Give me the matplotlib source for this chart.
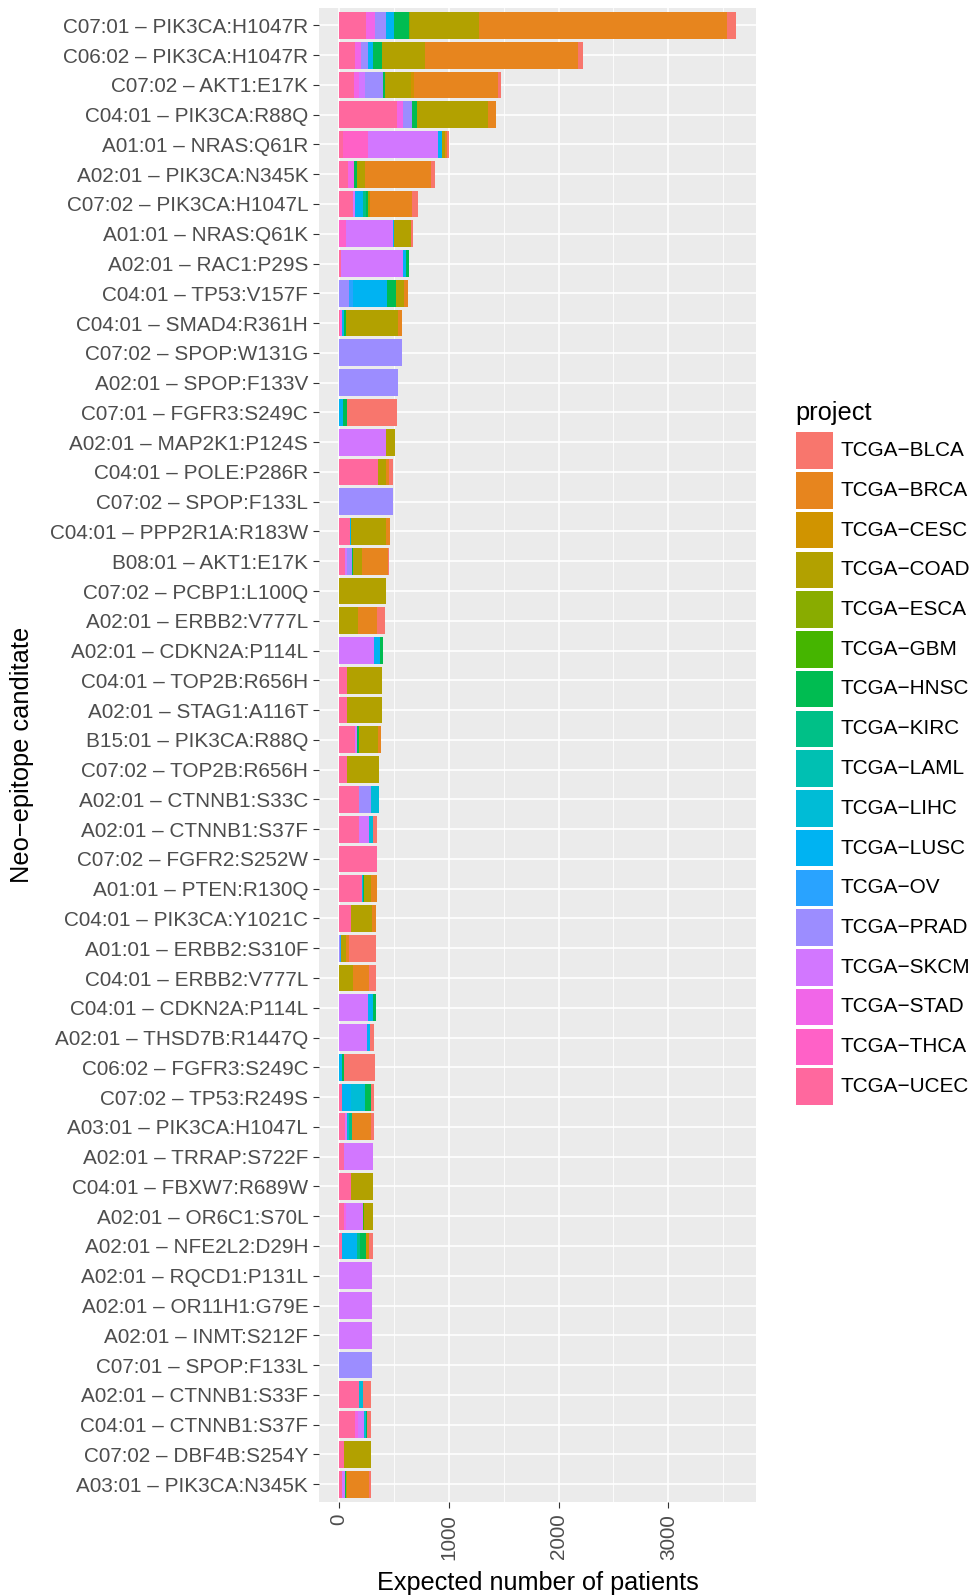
import math
import numpy as np
import matplotlib
matplotlib.use("Agg")
import matplotlib.pyplot as plt
from matplotlib.patches import Rectangle

plt.rcParams['font.family'] = ['Liberation Sans', 'DejaVu Sans']

# ---------------- data ----------------
hla = ["C07:01", "C06:02", "C07:02", "C04:01", "A01:01", "A02:01", "C07:02", "A01:01", "A02:01", "C04:01",
       "C04:01", "C07:02", "A02:01", "C07:01", "A02:01", "C04:01", "C07:02", "C04:01", "B08:01", "C07:02",
       "A02:01", "A02:01", "C04:01", "A02:01", "B15:01", "C07:02", "A02:01", "A02:01", "C07:02", "A01:01",
       "C04:01", "A01:01", "C04:01", "C04:01", "A02:01", "C06:02", "C07:02", "A03:01", "A02:01", "C04:01",
       "A02:01", "A02:01", "A02:01", "A02:01", "A02:01", "C07:01", "A02:01", "C04:01", "C07:02", "A03:01"]
mutation = ["PIK3CA:H1047R", "PIK3CA:H1047R", "AKT1:E17K", "PIK3CA:R88Q", "NRAS:Q61R", "PIK3CA:N345K",
            "PIK3CA:H1047L", "NRAS:Q61K", "RAC1:P29S", "TP53:V157F", "SMAD4:R361H", "SPOP:W131G",
            "SPOP:F133V", "FGFR3:S249C", "MAP2K1:P124S", "POLE:P286R", "SPOP:F133L", "PPP2R1A:R183W",
            "AKT1:E17K", "PCBP1:L100Q", "ERBB2:V777L", "CDKN2A:P114L", "TOP2B:R656H", "STAG1:A116T",
            "PIK3CA:R88Q", "TOP2B:R656H", "CTNNB1:S33C", "CTNNB1:S37F", "FGFR2:S252W", "PTEN:R130Q",
            "PIK3CA:Y1021C", "ERBB2:S310F", "ERBB2:V777L", "CDKN2A:P114L", "THSD7B:R1447Q", "FGFR3:S249C",
            "TP53:R249S", "PIK3CA:H1047L", "TRRAP:S722F", "FBXW7:R689W", "OR6C1:S70L", "NFE2L2:D29H",
            "RQCD1:P131L", "OR11H1:G79E", "INMT:S212F", "SPOP:F133L", "CTNNB1:S33F", "CTNNB1:S37F",
            "DBF4B:S254Y", "PIK3CA:N345K"]

projects = ["TCGA-BLCA", "TCGA-BRCA", "TCGA-CESC", "TCGA-COAD", "TCGA-ESCA", "TCGA-GBM", "TCGA-HNSC",
            "TCGA-KIRC", "TCGA-LAML", "TCGA-LIHC", "TCGA-LUSC", "TCGA-OV", "TCGA-PRAD", "TCGA-SKCM",
            "TCGA-STAD", "TCGA-THCA", "TCGA-UCEC"]

blca = [85, 52, 27, 0, 24, 37, 55, 18, 0, 0, 0, 0, 0, 457, 0, 37, 0, 0, 9, 0,
        73, 0, 0, 0, 0, 0, 0, 37, 0, 0, 0, 247, 64, 0, 37, 283, 27, 27, 0, 0,
        0, 37, 0, 0, 0, 0, 73, 37, 0, 18]
brca = [2259, 1391, 762, 73, 12, 600, 388, 0, 0, 37, 40, 0, 0, 0, 0, 27, 0, 37, 237, 0,
        170, 0, 0, 0, 27, 0, 0, 0, 0, 55, 37, 27, 146, 0, 0, 0, 0, 173, 0, 0,
        0, 0, 0, 0, 0, 0, 0, 0, 0, 201]
cesc = [0, 0, 30, 0, 0, 0, 0, 0, 0, 0, 0, 0, 0, 0, 0, 0, 0, 0, 0, 0,
        0, 0, 0, 0, 0, 0, 0, 0, 0, 0, 0, 0, 0, 0, 0, 0, 0, 0, 0, 0,
        0, 27, 0, 0, 0, 0, 0, 0, 0, 0]
coad = [624, 390, 237, 654, 27, 73, 12, 155, 0, 73, 472, 0, 0, 0, 82, 73, 0, 320, 82, 429,
        174, 0, 326, 320, 174, 298, 0, 0, 0, 64, 192, 46, 131, 0, 0, 0, 0, 0, 0, 201,
        82, 0, 0, 0, 0, 0, 0, 0, 247, 9]
esca = [12, 0, 0, 0, 0, 0, 0, 0, 0, 0, 0, 0, 0, 0, 0, 0, 0, 0, 0, 0,
        0, 0, 0, 0, 0, 0, 0, 0, 0, 0, 0, 0, 0, 0, 0, 0, 0, 0, 0, 0,
        0, 0, 0, 0, 0, 0, 0, 0, 0, 0]
gbm = [0, 0, 0, 0, 0, 0, 0, 0, 0, 0, 0, 0, 0, 0, 0, 0, 0, 0, 0, 0,
       0, 0, 0, 0, 0, 0, 0, 0, 0, 0, 0, 0, 0, 0, 0, 0, 0, 0, 0, 0,
       9, 0, 0, 0, 0, 0, 0, 0, 0, 0]
hnsc = [131, 82, 18, 40, 0, 27, 18, 0, 27, 85, 18, 0, 0, 37, 0, 0, 0, 0, 9, 0,
        0, 27, 0, 0, 12, 0, 0, 0, 0, 9, 0, 0, 0, 27, 0, 18, 55, 0, 0, 0,
        0, 55, 0, 0, 0, 0, 0, 9, 0, 9]
kirc = [0, 0, 0, 0, 0, 0, 30, 0, 0, 0, 0, 0, 0, 0, 0, 0, 0, 0, 0, 0,
        0, 0, 0, 0, 0, 0, 0, 0, 0, 0, 0, 0, 0, 0, 0, 0, 0, 27, 0, 0,
        0, 27, 0, 0, 0, 0, 0, 0, 0, 0]
laml = [0, 0, 0, 0, 0, 0, 0, 0, 0, 0, 0, 0, 0, 0, 0, 0, 0, 0, 0, 0,
        0, 0, 0, 0, 0, 0, 0, 0, 0, 0, 0, 0, 0, 0, 0, 0, 0, 0, 0, 0,
        0, 0, 0, 0, 0, 0, 0, 0, 0, 0]
lihc = [0, 0, 0, 0, 0, 0, 0, 0, 0, 0, 0, 0, 0, 0, 0, 0, 0, 0, 0, 0,
        0, 0, 0, 0, 0, 0, 73, 37, 0, 0, 0, 0, 0, 0, 0, 0, 128, 18, 0, 0,
        0, 0, 0, 0, 0, 0, 37, 18, 0, 0]
lusc = [73, 46, 0, 0, 37, 0, 73, 9, 27, 307, 18, 0, 0, 37, 0, 0, 0, 9, 0, 0,
        0, 55, 0, 0, 0, 0, 0, 0, 0, 9, 0, 0, 0, 46, 27, 27, 82, 0, 0, 0,
        0, 137, 0, 0, 0, 0, 0, 0, 0, 0]
ov = [0, 0, 0, 0, 0, 0, 0, 0, 0, 37, 0, 0, 0, 0, 0, 0, 0, 0, 0, 0,
      0, 0, 0, 0, 0, 0, 0, 0, 0, 0, 0, 9, 0, 0, 0, 0, 0, 0, 0, 0,
      0, 0, 0, 0, 0, 0, 0, 0, 0, 0]
prad = [107, 64, 167, 85, 0, 0, 0, 0, 0, 91, 0, 575, 539, 0, 0, 0, 493, 0, 46, 0,
        0, 0, 0, 0, 0, 0, 110, 0, 0, 0, 0, 9, 0, 0, 0, 0, 0, 0, 0, 0,
        0, 0, 0, 0, 0, 301, 0, 0, 0, 0]
skcm = [0, 0, 49, 0, 642, 0, 18, 429, 566, 0, 0, 0, 0, 0, 429, 0, 0, 0, 18, 0,
        0, 323, 0, 0, 18, 0, 0, 91, 0, 0, 0, 0, 0, 268, 259, 0, 0, 18, 265, 0,
        155, 0, 301, 301, 301, 0, 0, 55, 0, 27]
stad = [79, 55, 46, 52, 0, 55, 0, 0, 0, 0, 15, 0, 0, 0, 0, 0, 0, 0, 0, 0,
        0, 0, 0, 0, 0, 0, 0, 0, 0, 0, 0, 0, 0, 0, 0, 0, 0, 0, 0, 0,
        18, 0, 0, 0, 0, 0, 0, 27, 0, 0]
thca = [0, 0, 0, 0, 225, 0, 0, 64, 0, 0, 0, 0, 0, 0, 0, 0, 0, 0, 0, 0,
        0, 0, 0, 0, 0, 0, 0, 0, 0, 0, 0, 0, 0, 0, 0, 0, 0, 0, 0, 0,
        0, 0, 0, 0, 0, 0, 0, 0, 0, 0]
ucec = [247, 146, 140, 530, 37, 82, 128, 0, 18, 0, 12, 0, 0, 0, 0, 356, 0, 104, 58, 0,
        0, 0, 70, 73, 149, 70, 186, 186, 350, 213, 113, 0, 0, 0, 0, 0, 27, 55, 46, 110,
        46, 27, 0, 0, 0, 0, 186, 149, 49, 27]

series = [blca, brca, cesc, coad, esca, gbm, hnsc, kirc, laml, lihc, lusc, ov, prad, skcm, stad, thca, ucec]
x_ticks = [0, 1000, 2000, 3000]
x_minor = [500, 1500, 2500, 3500]


# ---------------- ggplot2 hue palette ----------------
def hcl_to_rgb(h, c=100.0, l=65.0):
    wy, wu, wv = 100.0, 0.1978398, 0.4683363
    u_ = c * math.cos(math.radians(h))
    v_ = c * math.sin(math.radians(h))
    Y = wy * ((l + 16) / 116) ** 3
    u = u_ / (13 * l) + wu
    v = v_ / (13 * l) + wv
    X = 9.0 * Y * u / (4 * v)
    Z = -X / 3 - 5 * Y + 3 * Y / v

    def g(x):
        x = x / wy
        x = 1.055 * x ** (1 / 2.4) - 0.055 if x > 0.00304 else 12.92 * x
        return min(max(x, 0.0), 1.0)
    r = g(3.240479 * X - 1.537150 * Y - 0.498535 * Z)
    gg = g(-0.969256 * X + 1.875992 * Y + 0.041556 * Z)
    b = g(0.055648 * X - 0.204043 * Y + 1.057311 * Z)
    return (r, gg, b)


n = len(projects)
colors = [hcl_to_rgb(15 + 360 * i / n) for i in range(n)]

# ---------------- figure ----------------
W, H = 972, 1596
fig = plt.figure(figsize=(W / 100, H / 100), dpi=100)
fig.patch.set_facecolor('white')

pl, pr, pt, pb = 319, 756, 7.5, 1502
ax = fig.add_axes([pl / W, 1 - pb / H, (pr - pl) / W, (pb - pt) / H])
ax.set_facecolor('#EBEBEB')
for s in ax.spines.values():
    s.set_visible(False)

nrow = len(hla)
ypos = np.arange(nrow)[::-1]
labels = [f"{a} \u2013 {m}" for a, m in zip(hla, mutation)]

vals = np.array(series, dtype=float)
left = np.zeros(nrow)
# stack from last factor level (UCEC) at zero to first (BLCA) at the end
for k in range(n - 1, -1, -1):
    ax.barh(ypos, vals[k], left=left, height=0.9, color=colors[k], linewidth=0, zorder=3)
    left += vals[k]

M = left.max()
ax.set_xlim(-0.05 * M, 1.05 * M)
ax.set_ylim(-0.6, nrow - 1 + 0.6)

ax.set_yticks(ypos)
ax.set_yticklabels(labels)
ax.set_xticks(x_ticks)
ax.set_xticklabels([str(t) for t in x_ticks], rotation=90, va='top', ha='center')
ax.set_xticks(x_minor, minor=True)
ax.tick_params(axis='both', which='major', length=4.2, width=0.8, color='#333333',
               labelsize=14.95, labelcolor='#4D4D4D')
ax.tick_params(axis='y', pad=3.6)
ax.tick_params(axis='x', pad=4.3)
ax.tick_params(axis='both', which='minor', length=0)

ax.grid(True, which='major', axis='both', color='white', linewidth=1.2, zorder=0)
ax.grid(True, which='minor', axis='x', color='white', linewidth=0.6, zorder=0)
ax.set_axisbelow(True)

# overlay axes in pixel coordinates for titles and legend
ov_ax = fig.add_axes([0, 0, 1, 1])
ov_ax.set_xlim(0, W)
ov_ax.set_ylim(H, 0)
ov_ax.axis('off')
ov_ax.patch.set_alpha(0)

ov_ax.text((pl + pr) / 2, 1590, "Expected number of patients", ha='center', va='baseline',
           fontsize=18.2, color='black')
ov_ax.text(22.5, (pt + pb) / 2, "Neo\u2212epitope canditate", ha='center', va='center',
           rotation=90, fontsize=18.3, color='black')

# legend
ov_ax.text(795, 413, "project", ha='left', va='center', fontsize=18.3, color='black')
key_w, key_h, step, y0 = 37, 36.5, 39.75, 450.5
for i, (p, c) in enumerate(zip(projects, colors)):
    yc = y0 + i * step
    ov_ax.add_patch(Rectangle((796, yc - key_h / 2), key_w, key_h, facecolor=c, edgecolor='none'))
    ov_ax.text(840, yc, p.replace('-', '\u2212'), ha='left', va='center', fontsize=14.95, color='black')

fig.savefig("out.png", dpi=100, facecolor='white')
